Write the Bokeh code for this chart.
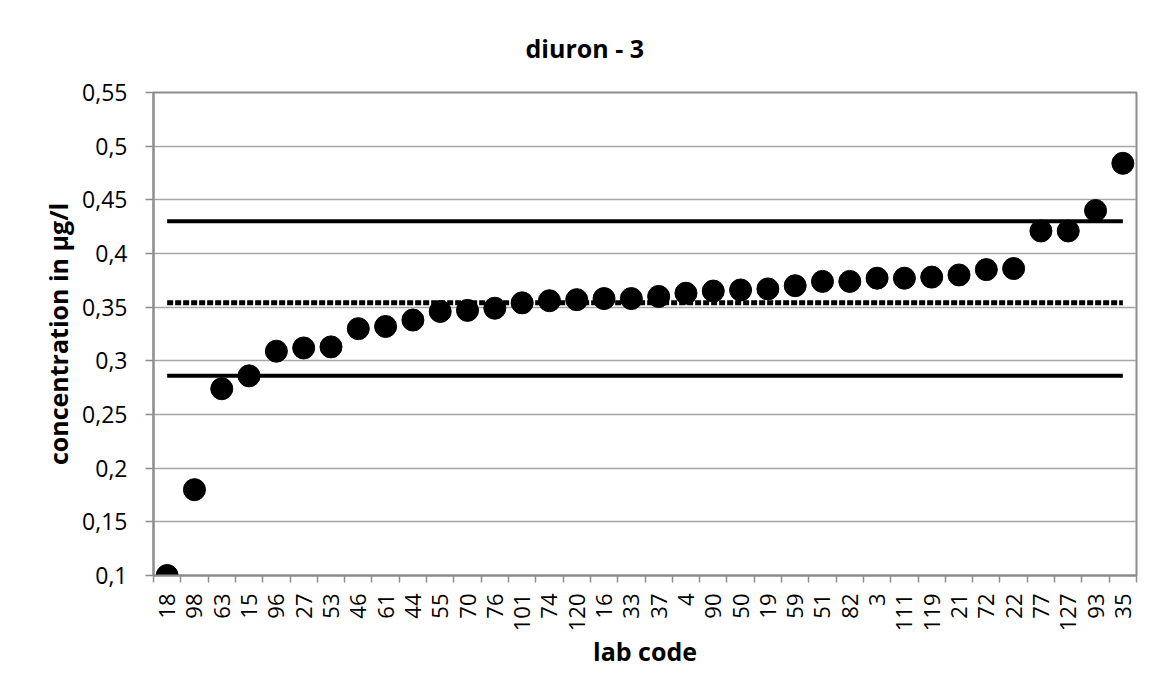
import math
from bokeh.plotting import figure
from bokeh.models import FixedTicker, CustomJSTickFormatter, Range1d
from bokeh.embed import file_html
from bokeh.resources import INLINE

lab_codes = ["18", "98", "63", "15", "96", "27", "53", "46", "61", "44", "55", "70",
             "76", "101", "74", "120", "16", "33", "37", "4", "90", "50", "19", "59",
             "51", "82", "3", "111", "119", "21", "72", "22", "77", "127", "93", "35"]
concentration = [0.100, 0.180, 0.274, 0.286, 0.309, 0.312, 0.313, 0.330, 0.332, 0.338,
                 0.346, 0.347, 0.349, 0.354, 0.356, 0.357, 0.358, 0.358, 0.360, 0.363,
                 0.365, 0.366, 0.367, 0.370, 0.374, 0.374, 0.377, 0.377, 0.378, 0.380,
                 0.385, 0.386, 0.421, 0.421, 0.440, 0.484]
assigned_value = 0.354
upper_limit = 0.430
lower_limit = 0.286
y_ticks = [0.1, 0.15, 0.2, 0.25, 0.3, 0.35, 0.4, 0.45, 0.5, 0.55]

positions = list(range(1, len(lab_codes) + 1))
boundaries = [i + 0.5 for i in range(0, len(lab_codes) + 1)]

FONT = "Open Sans"
GRID = "#a6a6a6"
AXIS = "#8c8c8c"

p = figure(width=1141, height=683, output_backend="svg", toolbar_location=None,
           x_range=Range1d(0.5, len(lab_codes) + 0.5), y_range=Range1d(0.1, 0.55),
           min_border_left=153, min_border_right=5, min_border_top=92,
           min_border_bottom=108, title="diuron - 3")

p.title.text_font = FONT
p.title.text_font_size = "25px"
p.title.text_font_style = "bold"
p.title.text_color = "black"
p.title.align = "left"
p.title.offset = 372
p.title.standoff = 55

p.outline_line_color = AXIS
p.outline_line_width = 2
p.xgrid.grid_line_color = None
p.ygrid.grid_line_color = GRID
p.ygrid.grid_line_width = 1.5

# x axis
p.xaxis.ticker = FixedTicker(ticks=positions, minor_ticks=boundaries)
p.xaxis.major_label_overrides = {pos: code for pos, code in zip(positions, lab_codes)}
p.xaxis.major_label_orientation = math.pi / 2
p.xaxis.major_tick_out = 0
p.xaxis.major_tick_in = 0
p.xaxis.minor_tick_out = 7
p.xaxis.minor_tick_in = 0
p.xaxis.minor_tick_line_color = AXIS
p.xaxis.minor_tick_line_width = 1.5
p.xaxis.major_label_standoff = 11
p.xaxis.major_label_text_font = FONT
p.xaxis.major_label_text_font_size = "22px"
p.xaxis.major_label_text_color = "black"
p.xaxis.axis_label = "lab code"
p.xaxis.axis_label_text_font = FONT
p.xaxis.axis_label_text_font_size = "25px"
p.xaxis.axis_label_text_font_style = "bold"
p.xaxis.axis_label_text_color = "black"
p.xaxis.axis_label_standoff = 0
p.xaxis.axis_line_color = AXIS
p.xaxis.axis_line_width = 2

# y axis
p.yaxis.ticker = FixedTicker(ticks=y_ticks)
p.yaxis.formatter = CustomJSTickFormatter(
    code="return tick.toFixed(2).replace(/0+$/, '').replace(/\\.$/, '').replace('.', ',');")
p.yaxis.minor_tick_line_color = None
p.yaxis.major_tick_out = 8
p.yaxis.major_tick_in = 0
p.yaxis.major_tick_line_color = AXIS
p.yaxis.major_tick_line_width = 1.5
p.yaxis.major_label_standoff = 18
p.yaxis.major_label_text_font = FONT
p.yaxis.major_label_text_font_size = "23px"
p.yaxis.major_label_text_color = "black"
p.yaxis.axis_label = "concentration in µg/l"
p.yaxis.axis_label_text_font = FONT
p.yaxis.axis_label_text_font_size = "25px"
p.yaxis.axis_label_text_font_style = "bold"
p.yaxis.axis_label_text_color = "black"
p.yaxis.axis_label_standoff = 4
p.yaxis.axis_line_color = AXIS
p.yaxis.axis_line_width = 2

# reference lines
x0, x1 = positions[0], positions[-1]
p.segment(x0=[x0, x0], y0=[upper_limit, lower_limit], x1=[x1, x1], y1=[upper_limit, lower_limit],
          line_color="black", line_width=4)
p.segment(x0=[x0], y0=[assigned_value], x1=[x1], y1=[assigned_value],
          line_color="black", line_width=5, line_dash="6 2")

# lab results
p.scatter(x=positions, y=concentration, marker="circle", size=22,
          fill_color="black", line_color="black")

open("out.html", "w").write(file_html(p, INLINE))
